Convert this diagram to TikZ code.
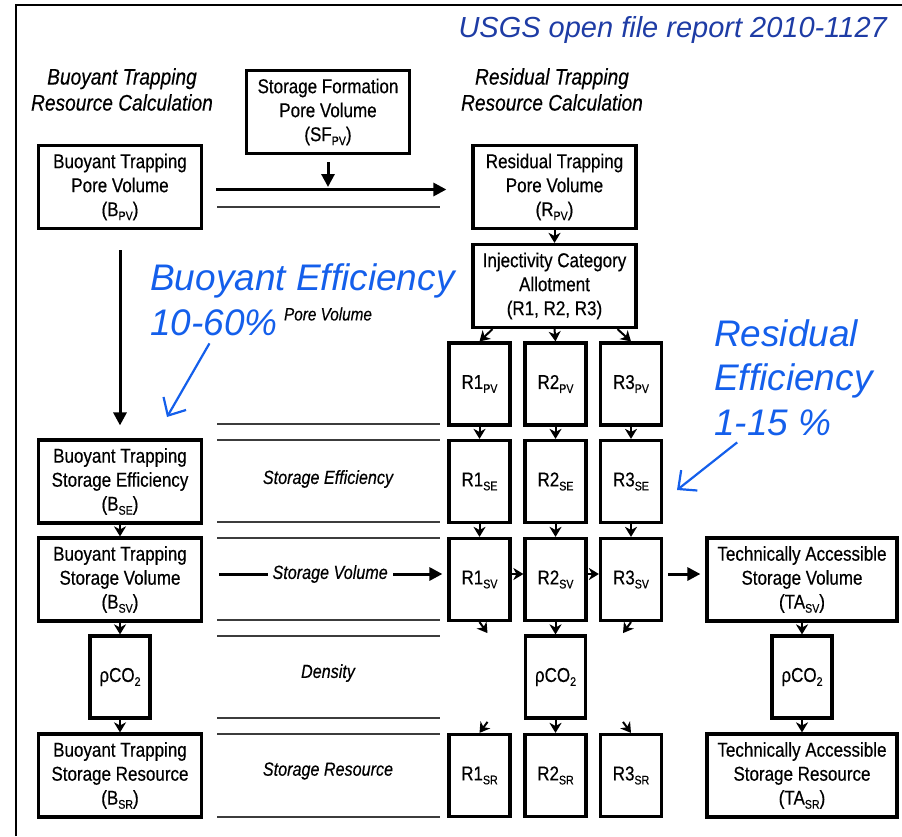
\documentclass[tikz,border=0pt]{standalone}
\usepackage{fontspec}
\usepackage{tikz}
\usetikzlibrary{arrows.meta, calc}
\newfontfamily\condfont[FakeStretch=0.85, FakeBold=0.4]{Liberation Sans}
\newfontfamily\arialfont{Liberation Sans}
\definecolor{usgsblue}{RGB}{30,60,165}
\definecolor{effblue}{RGB}{20,95,235}
\definecolor{rulegray}{RGB}{60,60,60}
\newcommand{\lowsub}[1]{\raisebox{-4pt}{\fontsize{12.5}{12.5}\selectfont #1}}
\tikzset{
  wblk/.style={
    draw=black, line width=3.2pt, fill=white,
    minimum width=163pt, minimum height=83pt,
    font=\condfont\fontsize{20}{24}\selectfont, inner sep=2pt, align=center,
  },
  nblk/.style={wblk, minimum width=61pt, minimum height=82pt},
  hdlbl/.style={font=\condfont\itshape\fontsize{22.5}{26}\selectfont, align=center},
  midlbl/.style={font=\condfont\itshape\fontsize{19}{22}\selectfont, inner sep=5pt},
  efflbl/.style={font=\arialfont\itshape\fontsize{37}{40}\selectfont, text=effblue,
    inner sep=0pt, anchor=base west},
  flowarr/.style={-{Triangle[length=13pt,width=13pt]}, line width=3pt},
  tickarr/.style={-{Stealth[length=10pt,width=12pt,inset=3pt]}, line width=2pt},
  effarr/.style={-{Straight Barb[length=14pt,width=26pt]}, line width=2.2pt, effblue},
  rowline/.style={rulegray, line width=1.4pt},
}
\def\Bx{120}
\def\Mx{328}
\def\Rx{554.5}
\def\Tx{802}
\def\yPV{384}
\def\ySE{481.5}
\def\ySV{579.5}
\def\yRho{677}
\def\ySR{775.5}

\begin{document}
\begin{tikzpicture}[x=1pt, y=-1pt]
\useasboundingbox (0,0) rectangle (902,836);

% frame, cut off at right and bottom
\draw[line width=1.5pt] (16,836) -- (16,5) -- (902,5);

% title
\node[font=\arialfont\itshape\fontsize{29}{32}\selectfont, text=usgsblue,
      anchor=base east, inner sep=0pt] (title) at (887,37)
  {USGS open file report 2010-1127};

% column headings
\node[hdlbl] (bhead) at (122,89.5) {Buoyant Trapping\\Resource Calculation};
\node[hdlbl] (rhead) at (552,89.5) {Residual Trapping\\Resource Calculation};

% =====================================================================
%  BUOYANT TRAPPING
% =====================================================================
\node[wblk] (sfpv) at (\Mx,112) {Storage Formation\\Pore Volume\\(SF\lowsub{PV})};
\node[wblk] (bpv) at (\Bx,187) {Buoyant Trapping\\Pore Volume\\(B\lowsub{PV})};
\node[wblk] (bse) at (\Bx,\ySE) {Buoyant Trapping\\Storage Efficiency\\(B\lowsub{SE})};
\node[wblk] (bsv) at (\Bx,\ySV) {Buoyant Trapping\\Storage Volume\\(B\lowsub{SV})};
\node[nblk, minimum width=60pt] (brho) at (\Bx,\yRho) {ρCO\lowsub{2}};
\node[wblk] (bsr) at (\Bx,\ySR) {Buoyant Trapping\\Storage Resource\\(B\lowsub{SR})};

% =====================================================================
%  RESIDUAL TRAPPING
% =====================================================================
\node[wblk] (rpv) at (\Rx,187) {Residual Trapping\\Pore Volume\\(R\lowsub{PV})};
\node[wblk] (ica) at (\Rx,286) {Injectivity Category\\Allotment\\(R1, R2, R3)};

\foreach \n/\cx in {1/479.5, 2/555.5, 3/631} {
  \node[nblk] (r\n-pv) at (\cx,\yPV) {R\n\lowsub{PV}};
  \node[nblk] (r\n-se) at (\cx,\ySE) {R\n\lowsub{SE}};
  \node[nblk] (r\n-sv) at (\cx,\ySV) {R\n\lowsub{SV}};
  \node[nblk] (r\n-sr) at (\cx,\ySR) {R\n\lowsub{SR}};
}
\node[nblk, minimum width=60pt] (r2-rho) at (555.5,\yRho) {ρCO\lowsub{2}};

% technically accessible
\node[wblk, minimum width=190pt] (tasv) at (\Tx,\ySV)
  {Technically Accessible\\Storage Volume\\(TA\lowsub{SV})};
\node[nblk, minimum width=60pt] (trho) at (\Tx,\yRho) {ρCO\lowsub{2}};
\node[wblk, minimum width=190pt] (tasr) at (\Tx,\ySR)
  {Technically Accessible\\Storage Resource\\(TA\lowsub{SR})};

% =====================================================================
%  MIDDLE ROWS
% =====================================================================
\foreach \ly in {207,424,440,522,538,620,636,718,734,817} {
  \draw[rowline] (217,\ly) -- (440,\ly);
}
\node[midlbl, font=\condfont\itshape\fontsize{18}{20}\selectfont] (pvlbl) at (\Mx,314) {Pore Volume};
\node[midlbl] (selbl) at (\Mx,479) {Storage Efficiency};
\node[midlbl] (dnlbl) at (\Mx,673) {Density};
\node[midlbl] (srlbl) at (\Mx,771) {Storage Resource};

% --- main arrows ---
\coordinate (sfjoin) at (\Mx,189.5);
\draw[flowarr, shorten <=13pt, shorten >=25pt]
  ([yshift=-2.5pt]bpv.east) -- ([yshift=-2.5pt]rpv.west);
\draw[flowarr, shorten <=7pt, shorten >=2.5pt] (sfpv.south) -- (sfjoin);
\draw[flowarr, shorten <=20pt, shorten >=13pt] (bpv) -- (bse);
\draw[flowarr, shorten <=16pt, shorten >=5pt]
  ([yshift=5.5pt]bsv.east) -- node[midlbl, fill=white, pos=0.52] (svlbl) {Storage Volume}
  ([yshift=5.5pt]r1-sv.west);
\draw[flowarr, shorten <=5pt, shorten >=5pt]
  ([yshift=5.5pt]r3-sv.east) -- ([yshift=5.5pt]tasv.west);

% --- small arrows ---
\foreach \a/\b in {rpv/ica, bse/bsv, bsv/brho, brho/bsr, tasv/trho, trho/tasr,
                   r2-sv/r2-rho, r2-rho/r2-sr} {
  \draw[tickarr] (\a) -- (\b);
}
\foreach \n in {1,2,3} {
  \draw[tickarr] (r\n-pv) -- (r\n-se);
  \draw[tickarr] (r\n-se) -- (r\n-sv);
}
\draw[tickarr] ([yshift=5.5pt]r1-sv.east) -- ([yshift=5.5pt]r2-sv.west);
\draw[tickarr] ([yshift=5.5pt]r2-sv.east) -- ([yshift=5.5pt]r3-sv.west);

% category split
\draw[tickarr] ([xshift=-62pt]ica.south) -- (r1-pv.north);
\draw[tickarr] (ica.south) -- (r2-pv.north);
\draw[tickarr] ([xshift=63pt]ica.south) -- (r3-pv.north);

% towards and away from the density box
\draw[tickarr] (r1-sv.south) -- ++(8,11);
\draw[tickarr] (r3-sv.south) -- ++(-8,11);
\draw[tickarr] ([xshift=8pt,yshift=11pt]r1-sr.north) -- (r1-sr.north);
\draw[tickarr] ([xshift=-8pt,yshift=11pt]r3-sr.north) -- (r3-sr.north);

% =====================================================================
%  EFFICIENCY NOTES (blue)
% =====================================================================
\node[efflbl] (beff1) at (150,290) {Buoyant Efficiency};
\node[efflbl] (beff2) at (150,335) {10-60\%};
\node[efflbl] (reff1) at (714,346) {Residual};
\node[efflbl] (reff2) at (714,390) {Efficiency};
\node[efflbl] (reff3) at (714,435) {1-15 \%};

\coordinate (beffend) at (167,417);
\coordinate (reffend) at (677,490);
\draw[effarr, shorten <=9pt] (beff2.south) -- (beffend);
\draw[effarr, shorten <=11pt] ([xshift=-27pt]reff3.south) -- (reffend);

\end{tikzpicture}
\end{document}
